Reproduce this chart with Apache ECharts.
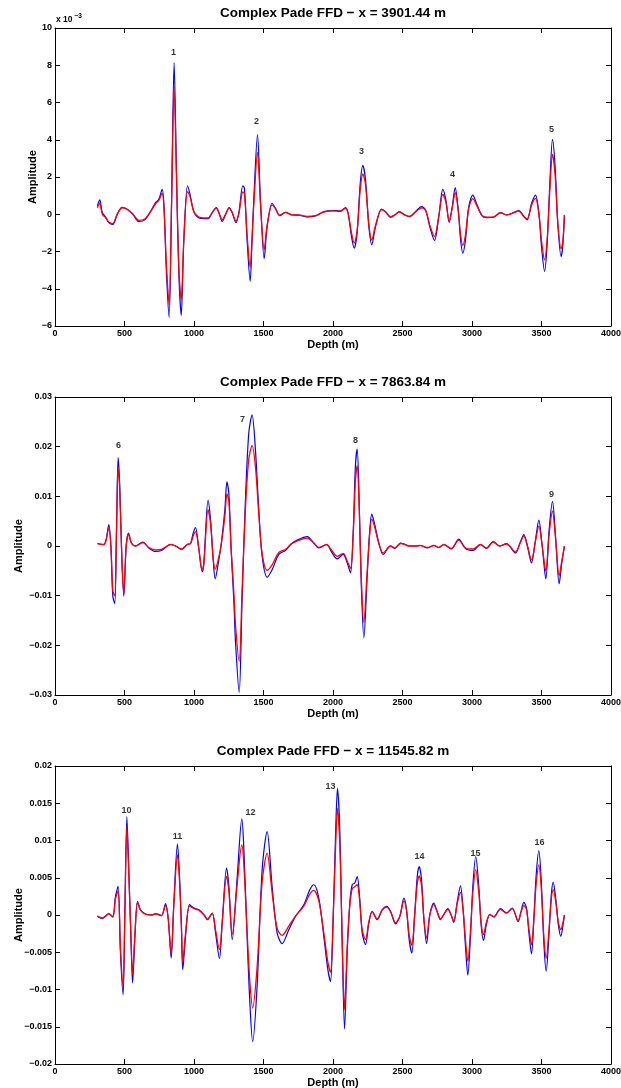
<!DOCTYPE html>
<html><head><meta charset="utf-8">
<script src="https://cdn.jsdelivr.net/npm/echarts@6/dist/echarts.min.js"></script>
<style>html,body{margin:0;padding:0;background:#fff}#c{width:621px;height:1088px}</style>
</head><body><div id="c"></div>
<script>
// ---------- Panel 1 (amplitude in units of 1e-3) ----------
const depth1 = [305,322,340,366,387,416,447,483,519,560,
 603,646,687,723,747,771,783,802,821,838,
 857,874,891,908,927,953,970,999,1035,1071,
 1102,1131,1160,1179,1203,1227,1253,1275,1301,1323,
 1351,1363,1382,1404,1418,1430,1457,1478,1505,1526,
 1562,1586,1617,1658,1706,1754,1814,1874,1934,1994,
 2054,2090,2109,2133,2153,2174,2196,2215,2234,2258,
 2279,2306,2349,2378,2414,2445,2478,2516,2550,2593,
 2637,2666,2699,2730,2761,2790,2812,2836,2858,2879,
 2901,2918,2934,2953,2977,3006,3032,3073,3109,3157,
 3205,3248,3288,3337,3373,3397,3429,3457,3481,3500,
 3522,3541,3560,3579,3598,3617,3641,3653,3665];
const blue1 = [0.45,0.77,0.1,-0.18,-0.45,-0.54,-0.02,0.37,0.27,0,
 -0.39,-0.3,0.14,0.62,0.8,1.34,0.59,-3.16,-5.54,0.4,
 8.14,2.2,-3.16,-5.43,-1.38,1.53,1.12,0.14,-0.2,-0.23,
 -0.23,0.09,0.36,0.09,-0.39,-0.02,0.36,0.09,-0.45,0.09,
 1.53,1.39,-1.38,-3.6,-1.38,0.77,4.28,0.77,-2.39,-0.66,
 0.59,0.32,-0.07,0.1,-0.04,-0.05,-0.14,-0.09,0.14,0.2,
 0.18,0.36,0.05,-1.2,-1.82,-0.96,1.66,2.62,1.84,-0.66,
 -1.64,-0.66,0.28,0.14,-0.16,-0.04,0.14,-0.04,-0.13,0.14,
 0.41,0.23,-0.74,-1.41,-0.13,1.34,0.77,-0.45,0.41,1.43,
 0.23,-1.38,-2.09,-1.38,0.41,1.03,0.59,-0.09,-0.18,-0.16,
 0.09,-0.04,0.05,0.2,-0.13,-0.3,0.59,1.03,0.05,-1.73,
 -3.07,-1.55,1.66,4.02,2.55,-0.48,-2.27,-1.73,-0.04];
const red1 = [0.35,0.6,0,-0.2,-0.42,-0.5,0,0.35,0.27,0.02,
 -0.33,-0.26,0.14,0.55,0.75,1.12,0.5,-2.8,-4.86,0.3,
 6.84,2.0,-2.9,-4.6,-1.3,1.21,1.0,0.14,-0.15,-0.2,
 -0.2,0.09,0.33,0.08,-0.3,0,0.33,0.08,-0.35,0.05,
 1.2,1.1,-1.1,-2.85,-1.2,0.5,3.32,0.6,-1.91,-0.6,
 0.5,0.3,-0.05,0.1,-0.03,-0.04,-0.12,-0.08,0.12,0.18,
 0.16,0.32,0.05,-1.0,-1.55,-0.85,1.35,2.16,1.6,-0.55,
 -1.38,-0.6,0.25,0.12,-0.14,-0.03,0.12,-0.03,-0.12,0.12,
 0.34,0.2,-0.65,-1.2,-0.1,1.07,0.65,-0.35,0.35,1.16,
 0.2,-1.1,-1.68,-1.1,0.35,0.84,0.5,-0.08,-0.16,-0.14,
 0.08,-0.03,0.05,0.17,-0.12,-0.25,0.5,0.85,0.05,-1.4,
 -2.45,-1.3,1.3,3.21,2.1,-0.4,-1.86,-1.5,-0.04];

// ---------- Panel 2 ----------
const depth2 = [305,351,368,387,402,416,430,442,454,466,
 481,495,512,529,550,579,632,675,723,766,
 831,867,910,951,975,994,1011,1035,1059,1071,
 1101,1119,1138,1152,1179,1197,1222,1237,1251,1267,
 1286,1299,1325,1346,1370,1394,1418,1442,1466,1490,
 1526,1562,1610,1658,1699,1742,1814,1862,1898,1953,
 1994,2030,2073,2102,2126,2145,2161,2174,2188,2203,
 2222,2246,2263,2279,2298,2330,2361,2414,2445,2486,
 2510,2546,2594,2630,2678,2726,2761,2797,2850,2905,
 2953,3008,3061,3104,3152,3200,3248,3313,3345,3373,
 3397,3428,3457,3481,3505,3531,3555,3579,3601,3627,
 3646,3665];
const blue2 = [0.0005,0.0003,0.0013,0.0043,0,-0.0101,-0.0116,0.0026,0.0178,0.012,
 -0.0027,-0.0101,0,0.0026,0.0006,0,0.0008,-0.0004,-0.0011,-0.0009,
 0.0003,0,-0.0007,0.0003,0.0005,0.0026,0.0037,-0.0007,-0.0052,-0.0034,
 0.0092,0.0053,-0.0027,-0.0066,-0.0027,0.0006,0.0073,0.0129,0.0105,-0.0007,
 -0.0107,-0.0195,-0.0295,-0.0107,0.0093,0.0227,0.0264,0.0194,0.0073,-0.002,
 -0.0063,-0.0048,-0.0017,-0.0009,0.0004,0.0012,0.0019,0.0006,-0.0004,0.0003,
 -0.0014,-0.0026,-0.0017,-0.0034,-0.0054,0.0026,0.016,0.0195,0.0093,-0.0074,
 -0.0185,-0.0061,0.0026,0.0064,0.0046,0.0006,-0.0017,0,-0.0005,0.0006,
 0.0004,0,0,0.0001,-0.0004,0.0001,-0.0003,0.0003,-0.0006,0.0014,
 -0.0005,-0.0009,0.0003,-0.0005,0.0009,0,0.0005,-0.0014,0.0006,0.0023,
 0.0002,-0.0034,0.0013,0.0052,0,-0.0066,0.0033,0.009,0.002,-0.0076,
 -0.0034,0];
const red2 = [0.0005,0.0003,0.0012,0.0038,0,-0.009,-0.01,0.002,0.016,0.011,
 -0.0025,-0.0095,0,0.0024,0.0006,0,0.0007,-0.0003,-0.0008,-0.0007,
 0.0003,0,-0.0006,0.0003,0.0005,0.002,0.0029,-0.0006,-0.005,-0.0035,
 0.0073,0.0045,-0.0025,-0.0047,-0.0022,0.0005,0.006,0.0105,0.009,-0.0005,
 -0.009,-0.016,-0.0232,-0.009,0.0075,0.0175,0.0202,0.016,0.0065,-0.0015,
 -0.0049,-0.0038,-0.0013,-0.0007,0.0004,0.001,0.0016,0.0006,-0.0003,0.0003,
 -0.001,-0.0021,-0.0015,-0.003,-0.0045,0.002,0.013,0.0162,0.008,-0.006,
 -0.0154,-0.005,0.002,0.0054,0.004,0.0005,-0.0014,0,-0.0004,0.0005,
 0.0004,0,0,0.0001,-0.0003,0.0001,-0.0003,0.0003,-0.0005,0.0012,
 -0.0004,-0.0006,0.0003,-0.0004,0.0008,0,0.0004,-0.0012,0.0005,0.002,
 0.0002,-0.0028,0.001,0.004,0,-0.005,0.0025,0.007,0.0015,-0.006,
 -0.003,0];

// ---------- Panel 3 ----------
const depth3 = [305,339,363,387,416,435,454,471,490,502,
 517,531,546,558,575,594,615,651,699,723,
 766,795,814,836,855,881,896,910,919,939,
 968,999,1035,1071,1097,1131,1155,1183,1203,1234,
 1251,1275,1311,1344,1358,1382,1402,1422,1454,1490,
 1526,1562,1598,1634,1682,1730,1790,1833,1862,1898,
 1934,1963,1982,2001,2018,2032,2049,2066,2083,2102,
 2121,2138,2157,2174,2191,2210,2234,2258,2282,2318,
 2354,2385,2414,2450,2481,2510,2529,2548,2567,2587,
 2606,2620,2637,2654,2673,2697,2725,2749,2773,2797,
 2826,2850,2869,2893,2917,2937,2953,2970,2989,3006,
 3027,3049,3066,3083,3102,3128,3157,3205,3248,3289,
 3332,3353,3373,3392,3409,3428,3445,3461,3481,3498,
 3517,3534,3553,3570,3584,3603,3622,3639,3656,3665];
const blue3 = [-0.00018,-0.0005,-0.00018,0.00018,-0.00027,0.0025,0.00383,-0.0051,-0.0107,-0.0004,
 0.0132,0.006,-0.0029,-0.0091,-0.0029,0.00182,0.00071,0.00013,0,0.00018,
 -0.00009,0.00152,-0.0004,-0.00576,0.0016,0.00955,0.00517,-0.00198,-0.00733,-0.0029,
 0.00138,0.00094,0.00071,0.00004,-0.00062,0.00027,-0.0024,-0.00585,-0.00107,0.00629,
 0.00383,-0.0033,0.00517,0.0129,0.0092,-0.0029,-0.0118,-0.017,-0.00956,0.006,
 0.0112,0.00383,-0.0024,-0.00384,-0.00198,-0.00018,0.00138,0.00338,0.00406,0.00227,
 -0.0029,-0.00733,-0.00893,-0.00062,0.0105,0.017,0.0114,-0.00375,-0.0153,-0.0051,
 0.0016,0.00406,0.0043,0.00517,0.0025,-0.0024,-0.00397,-0.00107,0.00049,-0.00062,
 0.00071,0.00116,0.00049,-0.0012,-0.00018,0.00227,0.00071,-0.0033,-0.0051,-0.00018,
 0.00517,0.0065,0.0047,-0.00062,-0.00384,0.00007,0.0016,0.00049,-0.00063,0.00007,
 0.00085,0,-0.00098,0.0017,0.00392,0.00049,-0.0042,-0.00809,-0.00285,0.00383,
 0.00785,0.00383,-0.0014,-0.0034,-0.0014,0.00007,-0.00027,0.00085,0.00027,0.00094,
 -0.0009,0.00049,0.0017,0.00094,-0.0023,-0.00523,-0.00063,0.00517,0.00866,0.0047,
 -0.00375,-0.00755,-0.00285,0.0026,0.00442,0.00214,-0.0014,-0.00286,-0.0012,0];
const red3 = [-0.00015,-0.0004,-0.00015,0.00015,-0.0002,0.0022,0.0032,-0.0045,-0.0096,-0.0003,
 0.0119,0.0054,-0.0025,-0.008,-0.0025,0.0017,0.00065,0.00012,0,0.00016,
 -0.00008,0.0013,-0.00035,-0.0051,0.0014,0.00807,0.0045,-0.0017,-0.0064,-0.0025,
 0.0012,0.00085,0.00065,0.00004,-0.00055,0.00025,-0.002,-0.00466,-0.0009,0.00517,
 0.0032,-0.0026,0.0042,0.0094,0.007,-0.0022,-0.009,-0.0125,-0.007,0.0044,
 0.0083,0.003,-0.0018,-0.00273,-0.0015,-0.00015,0.0012,0.0028,0.0033,0.0019,
 -0.0024,-0.0063,-0.0077,-0.0005,0.0088,0.0143,0.0095,-0.0032,-0.0127,-0.0043,
 0.0013,0.0035,0.0038,0.00406,0.0021,-0.002,-0.0033,-0.0009,0.00045,-0.00055,
 0.00065,0.00105,0.00045,-0.00105,-0.00015,0.0019,0.0006,-0.0027,-0.00406,-0.00015,
 0.0042,0.00526,0.0039,-0.0005,-0.0031,0.00005,0.0014,0.00045,-0.00055,0.00006,
 0.00075,0,-0.00085,0.00145,0.00303,0.0004,-0.0033,-0.0062,-0.0022,0.003,
 0.00607,0.003,-0.0011,-0.00264,-0.0011,0.00006,-0.00022,0.00075,0.00024,0.00085,
 -0.00075,0.0004,0.00126,0.00075,-0.0018,-0.00398,-0.0005,0.004,0.00674,0.0037,
 -0.0029,-0.00578,-0.0022,0.002,0.0034,0.0017,-0.0011,-0.00196,-0.0009,0];

// ---------- Peak annotations ----------
const peakLabels1 = ['1','2','3','4','5'];
const peakDepth1 = [853,1450,2205,2860,3572];
const peakAmp1 = [8.69,5.0,3.39,2.16,4.57];
const peakLabels2 = ['6','7','8','9'];
const peakDepth2 = [457,1349,2162,3572];
const peakAmp2 = [0.0202,0.0254,0.0212,0.0103];
const peakLabels3 = ['10','11','12','13','14','15','16'];
const peakDepth3 = [514,881,1406,1982,2622,3025,3486];
const peakAmp3 = [0.014,0.0105,0.0138,0.0173,0.0078,0.0083,0.0097];

// ---------- Axes / text ----------
const titles = ['Complex Pade FFD \u2212 x = 3901.44 m','Complex Pade FFD \u2212 x = 7863.84 m','Complex Pade FFD \u2212 x = 11545.82 m'];
const xTicks = [0,500,1000,1500,2000,2500,3000,3500,4000];
const yTicks1 = [-6,-4,-2,0,2,4,6,8,10];
const yTicks2 = [-0.03,-0.02,-0.01,0,0.01,0.02,0.03];
const yTicks3 = [-0.02,-0.015,-0.01,-0.005,0,0.005,0.01,0.015,0.02];
const xName = 'Depth (m)';
const yName = 'Amplitude';
const exponentText = ['x 10', '\u22123'];

const FONT = '"Liberation Sans", Arial, Helvetica, sans-serif';
const panels = [
  {d: depth1, b: blue1, r: red1, pl: peakLabels1, pd: peakDepth1, pa: peakAmp1, yt: yTicks1, top: 28, nameGap: 17},
  {d: depth2, b: blue2, r: red2, pl: peakLabels2, pd: peakDepth2, pa: peakAmp2, yt: yTicks2, top: 397, nameGap: 31},
  {d: depth3, b: blue3, r: red3, pl: peakLabels3, pd: peakDepth3, pa: peakAmp3, yt: yTicks3, top: 766, nameGap: 31}
];
const H = 298, LEFT = 55, RIGHT = 10;

function fmt(v){ const s = String(parseFloat((+v).toFixed(4))); return s.replace('-', '\u2212'); }

const grid = [], xAxis = [], yAxis = [], series = [], graphic = [];
panels.forEach((p, i) => {
  grid.push({left: LEFT, right: RIGHT, top: p.top, height: H, containLabel: false, outerBoundsMode: 'none'});
  const ymin = p.yt[0], ymax = p.yt[p.yt.length - 1], yint = +(p.yt[1] - p.yt[0]).toFixed(4);
  const common = {
    min: xTicks[0], max: xTicks[xTicks.length - 1], interval: xTicks[1] - xTicks[0],
    axisLine: {show: true, onZero: false, lineStyle: {color: '#000', width: 1}},
    axisTick: {show: true, inside: true, length: 5, lineStyle: {color: '#000'}},
    splitLine: {show: false}
  };
  xAxis.push(Object.assign({type: 'value', gridIndex: i, position: 'bottom',
    name: xName, nameLocation: 'middle', nameGap: 13, nameMoveOverlap: false,
    nameTextStyle: {fontFamily: FONT, fontWeight: 'bold', fontSize: 11, color: '#000', verticalAlign: 'top'},
    axisLabel: {fontFamily: FONT, fontWeight: 'bold', fontSize: 9, color: '#000', margin: 3, formatter: v => String(v), hideOverlap: false}
  }, common));
  xAxis.push(Object.assign({type: 'value', gridIndex: i, position: 'top', axisLabel: {show: false}}, common));
  const ycommon = {
    min: ymin, max: ymax, interval: yint,
    axisLine: {show: true, onZero: false, lineStyle: {color: '#000', width: 1}},
    axisTick: {show: true, inside: true, length: 5, lineStyle: {color: '#000'}},
    splitLine: {show: false}
  };
  yAxis.push(Object.assign({type: 'value', gridIndex: i, position: 'left',
    name: yName, nameLocation: 'middle', nameGap: p.nameGap, nameRotate: 90, nameMoveOverlap: false,
    nameTextStyle: {fontFamily: FONT, fontWeight: 'bold', fontSize: 11, color: '#000'},
    axisLabel: {fontFamily: FONT, fontWeight: 'bold', fontSize: 9, color: '#000', margin: 3, formatter: fmt}
  }, ycommon));
  yAxis.push(Object.assign({type: 'value', gridIndex: i, position: 'right', axisLabel: {show: false}}, ycommon));

  const xi = 2 * i, yi = 2 * i;
  series.push({type: 'line', xAxisIndex: xi, yAxisIndex: yi, data: p.d.map((d, k) => [d, p.b[k]]),
    showSymbol: false, smooth: 0.3, lineStyle: {color: '#0000ff', width: 1.2}, z: 2, animation: false, silent: true});
  series.push({type: 'line', xAxisIndex: xi, yAxisIndex: yi, data: p.d.map((d, k) => [d, p.r[k]]),
    showSymbol: false, smooth: 0.3, lineStyle: {color: '#ff0000', width: 1.3}, z: 3, animation: false, silent: true});
  series.push({type: 'scatter', xAxisIndex: xi, yAxisIndex: yi, symbolSize: 1, itemStyle: {color: 'rgba(0,0,0,0)'},
    data: p.pl.map((t, k) => ({name: t, value: [p.pd[k], p.pa[k]]})),
    label: {show: true, position: 'inside', formatter: '{b}', fontFamily: FONT, fontWeight: 'bold', fontSize: 9, color: '#000'},
    z: 4, animation: false, silent: true});

  graphic.push({type: 'text', x: LEFT + (621 - LEFT - RIGHT) / 2, y: p.top - 15,
    style: {text: titles[i], fontFamily: FONT, fontWeight: 'bold', fontSize: 13.5, fill: '#000', textAlign: 'center', textVerticalAlign: 'middle'}});
});
graphic.push({type: 'text', x: 56, y: 24, style: {text: exponentText[0], fontFamily: FONT, fontWeight: 'bold', fontSize: 8.5, fill: '#000', textAlign: 'left', textVerticalAlign: 'bottom'}});
graphic.push({type: 'text', x: 74.5, y: 20, style: {text: exponentText[1], fontFamily: FONT, fontWeight: 'bold', fontSize: 6.5, fill: '#000', textAlign: 'left', textVerticalAlign: 'bottom'}});

const chart = echarts.init(document.getElementById('c'), null, {renderer: 'canvas'});
chart.setOption({backgroundColor: '#fff', animation: false, grid, xAxis, yAxis, series, graphic});
</script></body></html>
